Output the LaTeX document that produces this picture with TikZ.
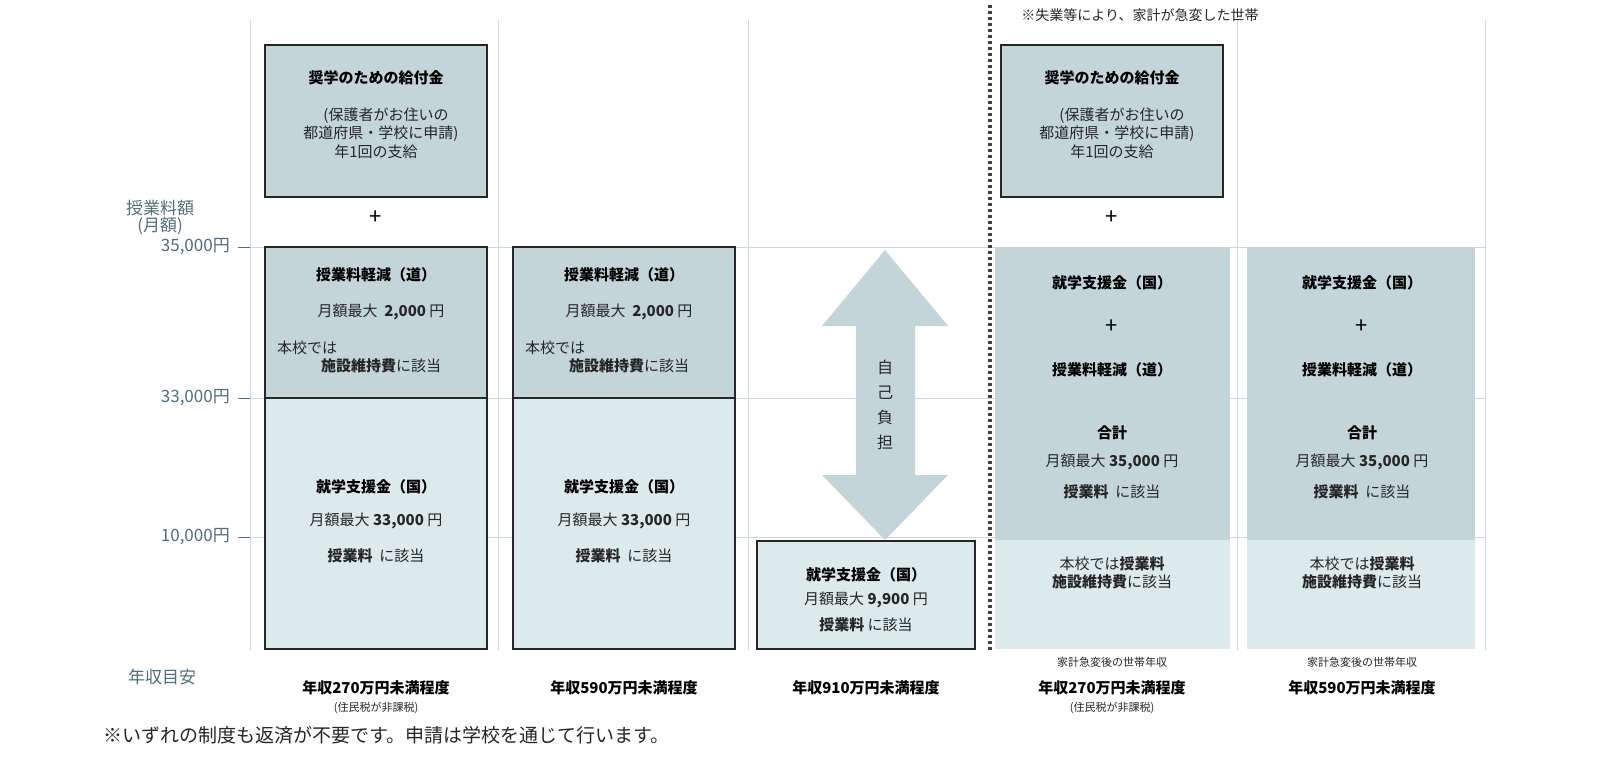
\documentclass[tikz,border=0pt]{standalone}
\usepackage{fontspec}
\setmainfont{Noto Sans CJK JP}
\definecolor{dk}{HTML}{C4D5DA}
\definecolor{lt}{HTML}{DCEAEC}
\definecolor{gl}{HTML}{C9D9DE}
\definecolor{ax}{HTML}{4F6F7C}
\tikzset{
 bx/.style={draw=black!85,line width=1.4pt},
 t/.style={font=\fontsize{15}{17}\selectfont,text=black!85,inner sep=0},
 tb/.style={font=\fontsize{15}{17}\selectfont\bfseries,text=black,inner sep=0},
 ts/.style={font=\fontsize{11}{13}\selectfont,text=black!85,inner sep=0},
 axl/.style={font=\fontsize{17}{17}\selectfont,text=ax,inner sep=0},
 grid/.style={draw=gl,line width=1pt}
}
\begin{document}
\begin{tikzpicture}[x=1pt,y=-1pt]
\fill[white] (0,0) rectangle (1600,776);
% grid
\foreach \x in {250,498,748,1237,1485} \draw[grid] (\x,20) -- (\x,650);
\foreach \y in {247,398,537} {\draw[grid] (250,\y) -- (1485,\y); \draw[ax,line width=0.8pt] (238,\y) -- (250,\y);}
% axis
\node[axl] (a1) at (160,208) {授業料額};
\node[axl] (a2) at (160,226) {(月額)};
\node[axl,anchor=east] (a3) at (230,247) {35,000円};
\node[axl,anchor=east] (a4) at (230,398) {33,000円};
\node[axl,anchor=east] (a5) at (230,537) {10,000円};
\node[axl] (a6) at (162,677) {年収目安};
% column 1 and 2
\foreach \c/\n in {376/A,624/B} {
 \draw[bx,fill=dk] (\c-111,247) rectangle (\c+111,398);
 \draw[bx,fill=lt] (\c-111,398) rectangle (\c+111,649);
 \node[tb] (\n1) at (\c,275) {授業料軽減（道）};
 \node[t] (\n2) at (\c+5,312) {月額最大\ \ \textbf{2,000} 円};
 \node[t,anchor=west] (\n3) at (\c-99,348) {本校では};
 \node[t] (\n4) at (\c+5,366) {\textbf{施設維持費}に該当};
 \node[tb] (\n5) at (\c,487) {就学支援金（国）};
 \node[t] (\n6) at (\c,521) {月額最大 \textbf{33,000} 円};
 \node[t] (\n7) at (\c,556) {\textbf{授業料}\ \ に該当};
}
\node[ts] (A8) at (376,708) {(住民税が非課税)};
% top boxes
\foreach \c/\n in {376/P,1112/Q} {
 \draw[bx,fill=dk] (\c-111,45) rectangle (\c+111,197);
 \node[tb] (\n1) at (\c,78) {奨学のための給付金};
 \node[t] (\n2) at (\c+10,116) {(保護者がお住いの};
 \node[t] (\n3) at (\c+5,134) {都道府県・学校に申請)};
 \node[t] (\n4) at (\c,152) {年1回の支給};
 \node[font=\fontsize{22}{22}\selectfont,inner sep=0] (\n5) at (\c,218) {+};
}
% column 3 arrow
\fill[dk] (885,250) -- (948,326) -- (915,326) -- (915,475) -- (948,475) -- (885,540)
 -- (822,475) -- (856,475) -- (856,326) -- (822,326) -- cycle;
\node[t,align=center,font=\fontsize{16}{25}\selectfont] (arrt) at (885,405) {自\\己\\負\\担};
\draw[bx,fill=lt] (757,541) rectangle (975,649);
\node[tb] (C1) at (866,575) {就学支援金（国）};
\node[t] (C2) at (866,600) {月額最大 \textbf{9,900} 円};
\node[t] (C3) at (866,625) {\textbf{授業料} に該当};
% columns 4 and 5
\foreach \c/\n/\l/\r in {1112/D/995/1230,1362/E/1247/1475} {
 \fill[dk] (\l,247) rectangle (\r,540);
 \fill[lt] (\l,540) rectangle (\r,649);
 \node[tb] (\n1) at (\c,283) {就学支援金（国）};
 \node[font=\fontsize{22}{22}\selectfont,inner sep=0] (\n2) at (\c,327) {+};
 \node[tb] (\n3) at (\c,370) {授業料軽減（道）};
 \node[tb] (\n4) at (\c,433) {合計};
 \node[t] (\n5) at (\c,462) {月額最大 \textbf{35,000} 円};
 \node[t] (\n6) at (\c,492) {\textbf{授業料}\ \ に該当};
 \node[t] (\n7) at (\c,564) {本校では\textbf{授業料}};
 \node[t] (\n8) at (\c,582) {\textbf{施設維持費}に該当};
 \node[ts] (\n9) at (\c,662) {家計急変後の世帯年収};
}
\node[ts] (D10) at (1112,708) {(住民税が非課税)};
\draw[black!75,line width=4pt,dash pattern=on 3pt off 3pt] (990,5) -- (990,650);
\node[t,font=\fontsize{14}{14}\selectfont] (top) at (1140,15) {※失業等により、家計が急変した世帯};
% bottom labels
\foreach \c/\s/\n in {376/270/L1,624/590/L2,866/910/L3,1112/270/L4,1362/590/L5}
 \node[tb] (\n) at (\c,688) {年収\s 万円未満程度};
\node[t,anchor=west,font=\fontsize{19}{19}\selectfont] (foot) at (103,735) {※いずれの制度も返済が不要です。申請は学校を通じて行います。};
\pgfresetboundingbox
\useasboundingbox (0,0) rectangle (1600,776);
\end{tikzpicture}
\end{document}
